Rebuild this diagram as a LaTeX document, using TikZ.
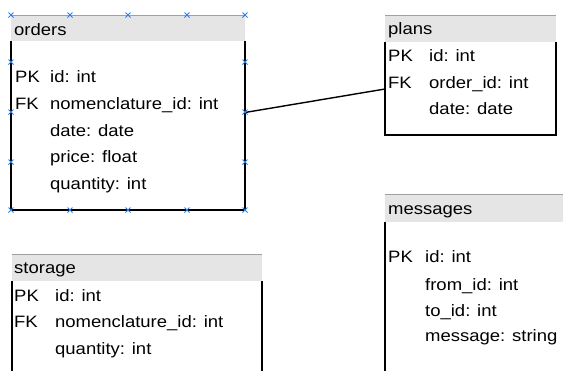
\documentclass[tikz,border=0pt]{standalone}
\usepackage{fontspec}
\setmainfont{Liberation Sans}[FakeStretch=1.12]
\definecolor{hdrgray}{RGB}{229,229,229}
\definecolor{hdrline}{RGB}{160,160,160}
\definecolor{handleblue}{RGB}{40,130,235}
\tikzset{
  tbl/.style={draw=none, inner sep=0pt, outer sep=0pt, minimum width=#1},
  hdr/.style={fill=hdrgray, draw=none},
  hdrtop/.style={draw=hdrline, line width=0.8pt},
  body/.style={draw=black, line width=1.6pt},
  txt/.style={anchor=base west, inner sep=0pt, text=black, font=\fontsize{16.5}{19}\selectfont},
  conn/.style={draw=black, line width=1.4pt},
  handlemark/.style={draw=handleblue, line width=0.9pt}
}
\begin{document}
\begin{tikzpicture}[x=1pt, y=-1pt]
\useasboundingbox (0,0) rectangle (563,370);
\clip (0,0) rectangle (563,370);

% table frames (invisible anchors)
\node[tbl=234pt, minimum height=195pt] (orders) at (128,112.5) {};
\node[tbl=171pt, minimum height=120pt] (plans) at (470.5,75) {};
\node[tbl=250pt, minimum height=130pt] (storage) at (137,319) {};
\node[tbl=200pt, minimum height=190pt] (messages) at (485,289) {};

% orders
\fill[hdr] (orders.north west) rectangle ([yshift=-26pt]orders.north east);
\draw[hdrtop] (orders.north west) -- (orders.north east);
\draw[body] ([yshift=-26pt]orders.north west) -- (orders.south west) -- (orders.south east) -- ([yshift=-26pt]orders.north east);
% plans
\fill[hdr] (plans.north west) rectangle ([yshift=-27pt]plans.north east);
\draw[hdrtop] (plans.north west) -- (plans.north east);
\draw[body] ([yshift=-27pt]plans.north west) -- (plans.south west) -- (plans.south east) -- ([yshift=-27pt]plans.north east);
% storage
\fill[hdr] (storage.north west) rectangle ([yshift=-27pt]storage.north east);
\draw[hdrtop] (storage.north west) -- (storage.north east);
\draw[body] ([yshift=-27pt]storage.north west) -- (storage.south west) -- (storage.south east) -- ([yshift=-27pt]storage.north east);
% messages
\fill[hdr] (messages.north west) rectangle ([yshift=-28pt]messages.north east);
\draw[hdrtop] (messages.north west) -- (messages.north east);
\draw[body] ([yshift=-28pt]messages.north west) -- (messages.south west);

% texts: orders
\node[txt] (ot) at (14,35) {orders};
\node[txt] (ok1) at (15,82.8) {PK};
\node[txt] (of1) at (50,82.8) {id: int};
\node[txt] (ok2) at (15,109.8) {FK};
\node[txt] (of2) at (50,109.8) {nomenclature\_id: int};
\node[txt] (of3) at (50,136.8) {date: date};
\node[txt] (of4) at (50,162.8) {price: float};
\node[txt] (of5) at (50,189.8) {quantity: int};
% plans
\node[txt] (pt) at (388,34.5) {plans};
\node[txt] (pk1) at (388,61) {PK};
\node[txt] (pf1) at (429,61) {id: int};
\node[txt] (pk2) at (388,88) {FK};
\node[txt] (pf2) at (429,88) {order\_id: int};
\node[txt] (pf3) at (429,114) {date: date};
% storage
\node[txt] (st) at (14,273.5) {storage};
\node[txt] (sk1) at (14,301) {PK};
\node[txt] (sf1) at (55,301) {id: int};
\node[txt] (sk2) at (14,327.7) {FK};
\node[txt] (sf2) at (55,327.7) {nomenclature\_id: int};
\node[txt] (sf3) at (55,354) {quantity: int};
% messages
\node[txt] (mt) at (388,214) {messages};
\node[txt] (mk1) at (388,262.7) {PK};
\node[txt] (mf1) at (425,262.7) {id: int};
\node[txt] (mf2) at (425,290) {from\_id: int};
\node[txt] (mf3) at (425,316) {to\_id: int};
\node[txt] (mf4) at (425,341.7) {message: string};

% connector
\coordinate (pfk) at ([yshift=-74pt]plans.north west);
\draw[conn] (orders.east) -- (pfk);

% selection handles
\foreach \p in {(11,15),(70,15),(128,15),(187,15),(245,15),
                (11,210),(70,210),(128,210),(187,210),(245,210),
                (11,62),(11,112),(11,162),(245,62),(245,112),(245,162)}
  \draw[handlemark] \p +(-2.5,-2.5) -- +(2.5,2.5) \p +(-2.5,2.5) -- +(2.5,-2.5);
\end{tikzpicture}
\end{document}
